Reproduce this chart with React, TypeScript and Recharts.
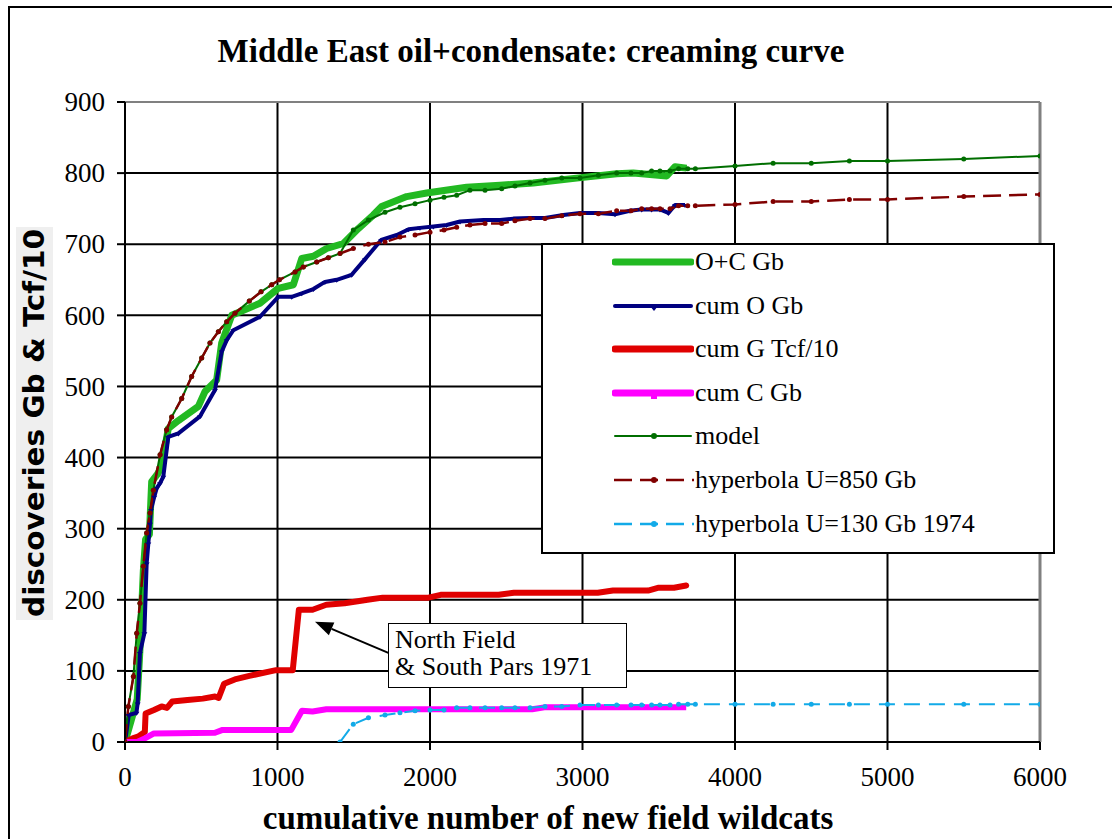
import { CartesianGrid, Line, LineChart, ReferenceLine, XAxis, YAxis } from "recharts";

type Pt = [number, number];

// cumulative number of new field wildcats (x) vs discoveries (y)
const ocGb: Pt[] = [
  [0, 0], [40, 30], [80, 60], [98, 130], [120, 240], [135, 285], [160, 292], [175, 366],
  [214, 377], [240, 388], [284, 441], [350, 452], [481, 472], [525, 493], [601, 509],
  [634, 561], [700, 600], [885, 617], [1005, 638], [1104, 643], [1159, 680], [1235, 683],
  [1322, 694], [1432, 701], [1530, 722], [1628, 741], [1683, 753], [1847, 767], [1978, 772],
  [2240, 780], [2459, 783], [2677, 786], [3005, 794], [3224, 799], [3333, 800], [3552, 796],
  [3607, 809], [3683, 807],
];

const cumO: Pt[] = [
  [0, 0], [25, 38], [75, 41], [83, 54], [98, 125], [127, 153], [142, 251], [153, 279],
  [164, 307], [170, 326], [192, 345], [208, 357], [230, 364], [251, 373], [284, 429],
  [350, 434], [492, 458], [590, 495], [634, 549], [667, 565], [710, 579], [885, 598],
  [1005, 626], [1093, 626], [1159, 631], [1235, 637], [1311, 647], [1388, 650], [1486, 657],
  [1574, 679], [1680, 706], [1782, 713], [1860, 721], [1934, 723], [2022, 725], [2109, 727],
  [2197, 732], [2350, 734], [2459, 734], [2546, 736], [2656, 737], [2754, 737], [2874, 741],
  [2984, 744], [3104, 744], [3213, 742], [3311, 747], [3388, 749], [3453, 749], [3508, 749],
  [3563, 744], [3607, 755], [3672, 755],
];

const cumG: Pt[] = [
  [0, 0], [50, 5], [90, 8], [130, 14], [135, 40], [190, 45], [240, 50], [275, 48], [310, 57],
  [410, 59], [510, 61], [590, 64], [614, 62], [650, 82], [720, 88], [815, 93], [990, 101],
  [1100, 101], [1140, 186], [1230, 186], [1320, 193], [1440, 195], [1590, 200], [1690, 203],
  [1990, 203], [2070, 207], [2450, 207], [2550, 210], [3100, 210], [3200, 213], [3430, 213],
  [3500, 217], [3600, 217], [3680, 220],
];

const cumC: Pt[] = [
  [0, 0], [80, 0], [130, 5], [190, 12], [590, 13], [640, 17], [1090, 17], [1160, 44],
  [1230, 43], [1320, 46], [2670, 46], [2760, 49], [3680, 49],
];

const model: Pt[] = [
  [0, 0], [22, 50], [55, 92], [77, 153], [98, 195], [120, 247], [142, 294], [164, 322],
  [186, 354], [230, 404], [273, 439], [306, 457], [372, 483], [437, 514], [503, 540],
  [557, 561], [612, 577], [667, 591], [721, 603], [815, 620], [892, 633], [962, 643],
  [1012, 650], [1115, 661], [1169, 668], [1257, 675], [1333, 681], [1410, 687], [1497, 720],
  [1596, 734], [1705, 745], [1803, 752], [1902, 757], [2000, 762], [2092, 766], [2175, 769],
  [2262, 776], [2361, 776], [2470, 778], [2557, 782], [2656, 786], [2754, 790], [2864, 793],
  [2984, 793], [3104, 797], [3224, 800], [3318, 800], [3388, 800], [3453, 803], [3508, 803],
  [3574, 803], [3630, 806], [3690, 806], [3740, 806], [4000, 810], [4250, 814], [4500, 814],
  [4750, 817], [5000, 817], [5500, 820], [6000, 824],
];

const hyp850: Pt[] = [
  [0, 0], [22, 50], [55, 92], [77, 153], [98, 195], [120, 247], [142, 294], [164, 322],
  [186, 354], [230, 404], [273, 439], [306, 457], [372, 483], [437, 514], [503, 540],
  [557, 561], [612, 577], [667, 591], [721, 603], [815, 620], [892, 633], [962, 643],
  [1012, 650], [1115, 661], [1169, 668], [1257, 675], [1333, 681], [1410, 687], [1497, 694],
  [1596, 700], [1705, 703], [1803, 710], [1902, 713], [2000, 717], [2092, 720], [2175, 724],
  [2262, 727], [2361, 729], [2470, 729], [2557, 733], [2656, 736], [2754, 736], [2864, 740],
  [2984, 743], [3104, 743], [3224, 747], [3318, 747], [3388, 750], [3453, 750], [3508, 750],
  [3574, 750], [3630, 754], [3690, 754], [3740, 754], [4000, 756], [4250, 760], [4500, 760],
  [4750, 763], [5000, 763], [5500, 767], [6000, 770],
];

const hyp130: Pt[] = [
  [1410, 0], [1497, 25], [1596, 34], [1705, 38], [1803, 41], [1902, 44], [2000, 45],
  [2092, 45], [2175, 48], [2262, 48], [2361, 48], [2470, 48], [2557, 48], [2656, 48],
  [2754, 50], [2864, 50], [2984, 52], [3104, 52], [3224, 52], [3318, 52], [3388, 52],
  [3453, 52], [3508, 52], [3574, 52], [3630, 53], [3690, 53], [3740, 53], [4000, 53],
  [4250, 53], [4500, 53], [4750, 53], [5000, 53], [5500, 53], [6000, 53],
];

const xTicks = [0, 1000, 2000, 3000, 4000, 5000, 6000];
const yTicks = [0, 100, 200, 300, 400, 500, 600, 700, 800, 900];

const C = {
  oc: "#22b922",
  oil: "#000080",
  gas: "#e00000",
  cond: "#ff00ff",
  model: "#006e00",
  hyp850: "#800000",
  hyp130: "#12aae8",
  frame: "#808080",
};

const rows = (pts: Pt[]) => pts.map(([x, y]) => ({ x, y }));

const serif = "Liberation Serif, Times New Roman, serif";

function XTick(p: any) {
  return (
    <text x={p.x} y={p.y} dy="0.71em" textAnchor="middle" fontSize={27} fill="#000" style={{ fontFamily: serif }}>
      {p.payload.value}
    </text>
  );
}

function YTick(p: any) {
  return (
    <text x={p.x} y={p.y} dy="0.34em" textAnchor="end" fontSize={27} fill="#000" style={{ fontFamily: serif }}>
      {p.payload.value}
    </text>
  );
}

function Arrow(p: any) {
  const { x1, y1, x2, y2 } = p;
  const a = Math.atan2(y2 - y1, x2 - x1);
  const len = 18;
  const w = 7;
  const bx = x2 - len * Math.cos(a);
  const by = y2 - len * Math.sin(a);
  const pts = [
    `${x2},${y2}`,
    `${bx + w * Math.sin(a)},${by - w * Math.cos(a)}`,
    `${bx - w * Math.sin(a)},${by + w * Math.cos(a)}`,
  ].join(" ");
  return (
    <g>
      <line x1={x1} y1={y1} x2={bx} y2={by} stroke="#000" strokeWidth={2} />
      <polygon points={pts} fill="#000" />
    </g>
  );
}

function TriDot(p: any) {
  const { cx, cy, index } = p;
  if (cx == null || cy == null) return <g key={index} />;
  return <path key={index} d={`M${cx - 3},${cy - 1} L${cx + 3},${cy - 1} L${cx},${cy + 3} Z`} fill={C.oil} />;
}

const legendItems = [
  { name: "O+C Gb", color: C.oc, width: 7, dash: undefined, marker: "none" },
  { name: "cum O Gb", color: C.oil, width: 4, dash: undefined, marker: "tri" },
  { name: "cum G Tcf/10", color: C.gas, width: 7, dash: undefined, marker: "none" },
  { name: "cum C Gb", color: C.cond, width: 7, dash: undefined, marker: "sq" },
  { name: "model", color: C.model, width: 2, dash: undefined, marker: "dot" },
  { name: "hyperbola U=850 Gb", color: C.hyp850, width: 2.5, dash: "18 8", marker: "dot" },
  { name: "hyperbola U=130 Gb 1974", color: C.hyp130, width: 2.5, dash: "18 8", marker: "dot" },
];

function LegendBox() {
  return (
    <div
      style={{
        position: "absolute",
        left: 541,
        top: 243,
        width: 510,
        height: 307,
        border: "2px solid #000",
        background: "#fff",
      }}
    >
      {legendItems.map((it, i) => (
        <div
          key={it.name}
          style={{ position: "absolute", left: 69, top: 17 + i * 43.6 - 15, height: 30, display: "flex", alignItems: "center" }}
        >
          <svg width={82} height={30} style={{ display: "block" }}>
            <line
              x1={it.dash ? 2 : 3}
              y1={15}
              x2={it.dash ? 82 : 79}
              y2={15}
              stroke={it.color}
              strokeWidth={it.width}
              strokeDasharray={it.dash}
              strokeLinecap={it.dash ? "butt" : "round"}
            />
            {it.marker === "dot" && <circle cx={42} cy={15} r={3} fill={it.color} />}
            {it.marker === "tri" && <path d="M38,15 L46,15 L42,20 Z" fill={it.color} />}
            {it.marker === "sq" && <rect x={39} y={14} width={6} height={7} fill={it.color} />}
          </svg>
          <span style={{ fontFamily: serif, fontSize: 26, lineHeight: "30px", whiteSpace: "nowrap", marginLeft: 1 }}>
            {it.name}
          </span>
        </div>
      ))}
    </div>
  );
}

export default function App() {
  return (
    <div
      style={{
        position: "absolute",
        left: 0,
        top: 0,
        width: 1112,
        height: 839,
        background: "#fff",
        overflow: "hidden",
        fontFamily: serif,
      }}
    >
      <div
        style={{
          position: "absolute",
          left: 8,
          top: 6,
          width: 1200,
          height: 900,
          borderLeft: "2px solid #000",
          borderTop: "2px solid #000",
        }}
      />
      <div style={{ position: "absolute", left: 0, top: 0 }}>
        <LineChart width={1112} height={839} margin={{ top: 102, right: 72, bottom: 67, left: 65 }}>
          <CartesianGrid stroke="#000" strokeWidth={2} horizontal vertical />
          <XAxis
            dataKey="x"
            type="number"
            domain={[0, 6000]}
            ticks={xTicks}
            allowDataOverflow
            height={30}
            stroke="#000"
            strokeWidth={2}
            tickSize={8}
            tickMargin={17}
            tick={XTick}
            tickLine={{ stroke: "#000", strokeWidth: 2 }}
          />
          <YAxis
            type="number"
            domain={[0, 900]}
            ticks={yTicks}
            allowDataOverflow
            width={60}
            stroke="#000"
            strokeWidth={2}
            tickSize={8}
            tickMargin={12}
            tick={YTick}
            tickLine={{ stroke: "#000", strokeWidth: 2 }}
          />
          <ReferenceLine y={900} stroke={C.frame} strokeWidth={2} />
          <ReferenceLine x={6000} stroke={C.frame} strokeWidth={3} />
          <Line data={rows(ocGb)} dataKey="y" stroke={C.oc} strokeWidth={7} dot={false} strokeLinejoin="round" isAnimationActive={false} />
          <Line data={rows(cumO)} dataKey="y" stroke={C.oil} strokeWidth={4} dot={TriDot} strokeLinejoin="round" isAnimationActive={false} />
          <Line data={rows(cumG)} dataKey="y" stroke={C.gas} strokeWidth={6} dot={false} strokeLinejoin="round" strokeLinecap="round" isAnimationActive={false} />
          <Line data={rows(cumC)} dataKey="y" stroke={C.cond} strokeWidth={6} dot={false} strokeLinejoin="round" isAnimationActive={false} />
          <Line data={rows(model)} dataKey="y" stroke={C.model} strokeWidth={2} dot={{ r: 2.5, fill: C.model, stroke: C.model, strokeWidth: 0 }} isAnimationActive={false} />
          <Line data={rows(hyp850)} dataKey="y" stroke={C.hyp850} strokeWidth={2.5} strokeDasharray="18 8" dot={{ r: 2.5, fill: C.hyp850, stroke: C.hyp850, strokeWidth: 0 }} isAnimationActive={false} />
          <Line data={rows(hyp130)} dataKey="y" stroke={C.hyp130} strokeWidth={2} strokeDasharray="16 9" dot={{ r: 2.5, fill: C.hyp130, stroke: C.hyp130, strokeWidth: 0 }} isAnimationActive={false} />
          <ReferenceLine segment={[{ x: 1731, y: 125 }, { x: 1246, y: 169 }]} shape={Arrow} />
        </LineChart>
      </div>
      <div
        style={{
          position: "absolute",
          left: 531,
          top: 35,
          transform: "translateX(-50%)",
          fontSize: 33,
          lineHeight: "33px",
          fontWeight: "bold",
          whiteSpace: "nowrap",
        }}
      >
        Middle East oil+condensate: creaming curve
      </div>
      <div
        style={{
          position: "absolute",
          left: 548,
          top: 802,
          transform: "translateX(-50%)",
          fontSize: 33,
          lineHeight: "33px",
          fontWeight: "bold",
          whiteSpace: "nowrap",
        }}
      >
        cumulative number of new field wildcats
      </div>
      <svg width={60} height={839} style={{ position: "absolute", left: 0, top: 0 }}>
        <rect x={16} y={227} width={37} height={393} fill="#efefef" />
        <text
          x={44}
          y={423}
          transform="rotate(-90 44 423)"
          textAnchor="middle"
          fontWeight="bold"
          fontSize={29}
          textLength={388}
          lengthAdjust="spacingAndGlyphs"
          style={{ fontFamily: "DejaVu Sans Condensed, DejaVu Sans, sans-serif" }}
        >
          discoveries Gb &amp; Tcf/10
        </text>
      </svg>
      <LegendBox />
      <div
        style={{
          position: "absolute",
          left: 388,
          top: 623,
          width: 239,
          height: 65,
          border: "1.5px solid #000",
          background: "#fff",
          fontSize: 26,
          lineHeight: "27px",
          padding: "2px 0 0 6px",
          boxSizing: "border-box",
          whiteSpace: "nowrap",
        }}
      >
        North Field
        <br />&amp; South Pars 1971
      </div>
    </div>
  );
}
